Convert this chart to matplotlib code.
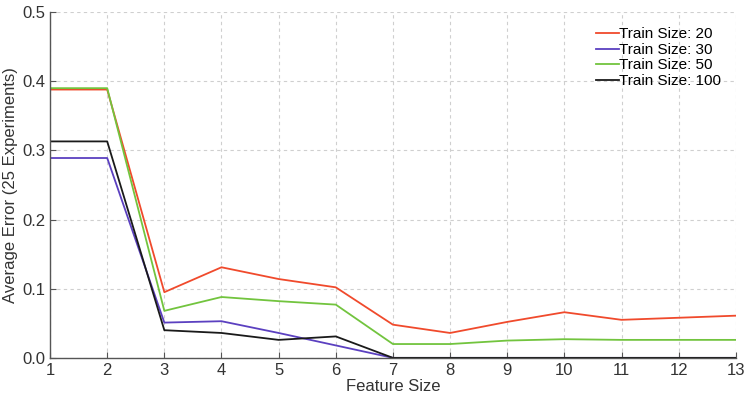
import numpy as np
import matplotlib
matplotlib.use("Agg")
import matplotlib.pyplot as plt

plt.rcParams["font.family"] = ["Liberation Sans", "DejaVu Sans"]

feature_size = [1, 2, 3, 4, 5, 6, 7, 8, 9, 10, 11, 12, 13]

err_20 = [0.388, 0.388, 0.095, 0.131, 0.114, 0.102, 0.048, 0.036, 0.052, 0.066, 0.055, 0.058, 0.061]
err_30 = [0.289, 0.289, 0.051, 0.053, 0.036, 0.018, 0.0, 0.0, 0.0, 0.0, 0.0, 0.0, 0.0]
err_50 = [0.390, 0.390, 0.068, 0.088, 0.082, 0.077, 0.020, 0.020, 0.025, 0.027, 0.026, 0.026, 0.026]
err_100 = [0.313, 0.313, 0.040, 0.036, 0.026, 0.031, 0.0, 0.0, 0.0, 0.0, 0.0, 0.0, 0.0]

series = [
    ("Train Size: 20", err_20, "#f04a2c"),
    ("Train Size: 30", err_30, "#5b40c0"),
    ("Train Size: 50", err_50, "#72c43e"),
    ("Train Size: 100", err_100, "#1a1a1a"),
]

fig = plt.figure(figsize=(7.47, 4.03), dpi=100)
ax = fig.add_axes([0.067, 0.112, 0.918, 0.858])

for label, vals, color in series:
    ax.plot(feature_size, vals, color=color, lw=1.3, label=label)

ax.set_xlim(1, 13)
ax.set_ylim(0, 0.5)
ax.set_xticks(feature_size)
ax.set_yticks(np.arange(0, 0.51, 0.1))
ax.yaxis.set_major_formatter(matplotlib.ticker.FormatStrFormatter("%.1f"))

ax.grid(True, color="#cfcfcf", linestyle=(0, (3, 3)), lw=0.8)
ax.set_axisbelow(True)
for s in ["top", "right"]:
    ax.spines[s].set_visible(False)
for s in ["left", "bottom"]:
    ax.spines[s].set_color("#555555")
    ax.spines[s].set_linewidth(1.0)

ax.tick_params(direction="in", length=4, colors="#555555", labelcolor="#333333", labelsize=12)
ax.set_xlabel("Feature Size", fontsize=12, color="#333333", labelpad=1)
ax.set_ylabel("Average Error (25 Experiments)", fontsize=12, color="#333333", labelpad=3)

leg = ax.legend(loc="upper right", frameon=False, fontsize=11, handlelength=1.5,
                handletextpad=0.0, labelspacing=0.1, borderaxespad=0.6)

fig.savefig("out.png", dpi=100)
